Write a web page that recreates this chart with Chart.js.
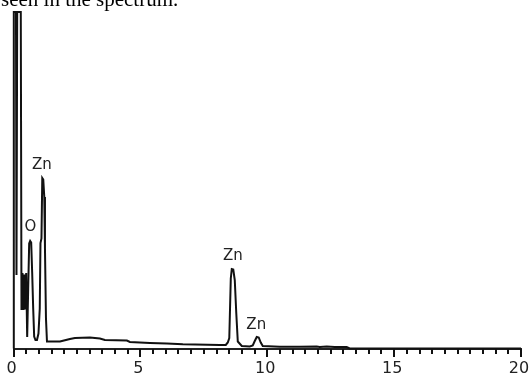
<!DOCTYPE html>
<html>
<head>
<meta charset="utf-8">
<script src="https://cdn.jsdelivr.net/npm/chart.js@4/dist/chart.umd.min.js"></script>
<style>
    html, body { margin: 0; padding: 0; background: #fff; }
    #caixa { position: relative; width: 530px; height: 377px; }
</style>
</head>
<body>
<div id="caixa"><canvas id="espectro"></canvas></div>
<script>
const energiaKeV = [
    0.000, 0.012, 0.098, 0.118, 0.146, 0.287, 0.315, 0.354, 0.394, 0.433,
    0.472, 0.500, 0.539, 0.579, 0.618, 0.657, 0.697, 0.736, 0.776, 0.815,
    0.866, 0.925, 0.984, 1.035, 1.063, 1.102, 1.134, 1.173, 1.213, 1.240,
    1.280, 1.319, 1.831, 2.224, 2.421, 3.012, 3.406, 3.602, 4.469, 4.587,
    5.374, 6.043, 6.673, 8.130, 8.366, 8.445, 8.504, 8.563, 8.602, 8.661,
    8.720, 8.780, 8.839, 8.996, 9.311, 9.429, 9.508, 9.587, 9.665, 9.744,
    9.823, 10.492, 11.280, 11.949, 12.067, 12.343, 12.657, 13.130, 13.248, 20.000
];
const contagens = [
    0, 3365, 3365, 735, 3365, 3365, 385, 755, 385, 740,
    390, 755, 115, 600, 1050, 1075, 1060, 760, 400, 120,
    85, 85, 150, 400, 1055, 1100, 1705, 1690, 1515, 1000,
    300, 70, 70, 95, 105, 110, 100, 85, 80, 65,
    55, 50, 42, 35, 35, 60, 105, 700, 795, 790,
    685, 350, 70, 25, 20, 30, 75, 115, 110, 60,
    25, 18, 18, 20, 15, 20, 15, 15, 0, 0
];

// rótulos dos picos
const rotulosPicos = ['Zn', 'O', 'Zn', 'Zn'];
const rotulosKeV = [1.122, 0.669, 8.642, 9.567];
const rotulosContagem = [1830, 1210, 925, 235];

const ticksEixoX = [0, 5, 10, 15, 20];
const legendaTopo = 'seen in the spectrum.';

const pontos = energiaKeV.map((e, i) => ({ x: e, y: contagens[i] }));

const pluginTextos = {
    id: 'pluginTextos',
    afterDraw(chart) {
        const ctx = chart.ctx;
        const x = chart.scales.x;
        const y = chart.scales.y;

        // marcas do eixo: a cada 0.5 keV curtas, a cada 5 keV longas
        ctx.save();
        ctx.fillStyle = '#111';
        const base = Math.round(chart.chartArea.bottom);
        for (let i = 0; i <= 40; i++) {
            const px = Math.round(x.getPixelForValue(i * 0.5));
            ctx.fillRect(px - 1, base, 2, i % 10 === 0 ? 8 : 5);
        }

        ctx.fillStyle = '#222';
        ctx.font = '15px "DejaVu Sans"';
        ctx.textAlign = 'center';
        ctx.textBaseline = 'middle';
        rotulosPicos.forEach((r, i) => {
            ctx.fillText(r, x.getPixelForValue(rotulosKeV[i]), y.getPixelForValue(rotulosContagem[i]));
        });

        ctx.fillStyle = '#000';
        ctx.font = '21px "Liberation Serif"';
        ctx.textAlign = 'left';
        ctx.textBaseline = 'alphabetic';
        ctx.fillText(legendaTopo, 1, 6);
        ctx.restore();
    }
};

const ctx = document.getElementById('espectro').getContext('2d');
new Chart(ctx, {
    type: 'line',
    data: {
        datasets: [{
            label: 'Espectro EDS',
            data: pontos,
            borderColor: '#111',
            borderWidth: 2,
            pointRadius: 0,
            tension: 0,
            fill: false,
            clip: 2
        }]
    },
    options: {
        responsive: true,
        maintainAspectRatio: false,
        animation: false,
        devicePixelRatio: 1,
        layout: { padding: { left: 13.5, right: 9, top: 12, bottom: 0 } },
        plugins: {
            legend: { display: false },
            tooltip: { enabled: false }
        },
        scales: {
            x: {
                type: 'linear',
                min: 0,
                max: 20,
                grid: { display: false, drawTicks: false },
                border: { display: true, color: '#222', width: 2 },
                ticks: {
                    stepSize: 5,
                    autoSkip: false,
                    maxRotation: 0,
                    padding: 11,
                    labelOffset: -2,
                    color: '#222',
                    font: { family: 'DejaVu Sans', size: 16 }
                },
                afterFit: (escala) => {
                    escala.height = 28.5;
                    escala.paddingLeft = 0;
                    escala.paddingRight = 0;
                }
            },
            y: {
                display: false,
                min: 0,
                max: 3365
            }
        }
    },
    plugins: [pluginTextos]
});
</script>
</body>
</html>
